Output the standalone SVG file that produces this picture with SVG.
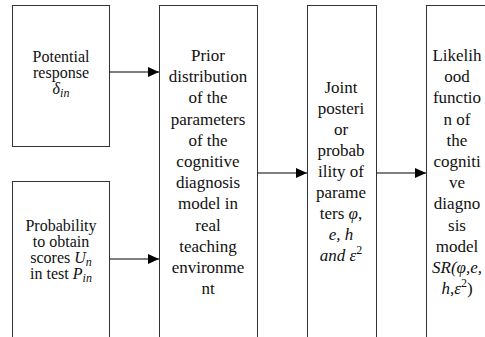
<svg xmlns="http://www.w3.org/2000/svg" width="485" height="337" viewBox="0 0 485 337">
<defs>
<marker id="ah" markerWidth="11" markerHeight="10" refX="11" refY="5" orient="auto" markerUnits="userSpaceOnUse">
<path d="M0,0 L11,5 L0,10 Z" fill="#000"/>
</marker>
<style>
.box{fill:#fff;stroke:#333;stroke-width:1}
text{font-family:'Liberation Serif','Times New Roman',serif;font-size:17px;fill:#111;text-anchor:middle}
.s{font-size:16px}
.i{font-style:italic}
.sub{font-size:12px}
.c{stroke:#000;stroke-width:1.2;fill:none}
</style>
</defs>
<rect width="485" height="337" fill="#fff"/>
<g id="n1">
<rect class="box" x="12.5" y="5.5" width="97" height="141"/>
<text class="s" x="61" y="62">Potential</text>
<text class="s" x="61" y="78">response</text>
<text class="s" x="61" y="94"><tspan class="i">δ</tspan><tspan class="i sub" dy="3">in</tspan></text>
</g>
<g id="n2">
<rect class="box" x="12.5" y="181.5" width="97" height="170"/>
<text class="s" x="61" y="230.5">Probability</text>
<text class="s" x="61" y="246.5">to obtain</text>
<text class="s" x="61" y="262.5">scores <tspan class="i">U</tspan><tspan class="i sub" dy="3">n</tspan></text>
<text class="s" x="61" y="278.5">in test <tspan class="i">P</tspan><tspan class="i sub" dy="3">in</tspan></text>
</g>
<g id="n3">
<rect class="box" x="159.5" y="5.5" width="98" height="345"/>
<text x="208" y="61">Prior</text>
<text x="208" y="82.2">distribution</text>
<text x="208" y="103.4">of the</text>
<text x="208" y="124.6">parameters</text>
<text x="208" y="145.8">of the</text>
<text x="208" y="167">cognitive</text>
<text x="208" y="188.2">diagnosis</text>
<text x="208" y="209.4">model in</text>
<text x="208" y="230.6">real</text>
<text x="208" y="251.8">teaching</text>
<text x="208" y="273">environme</text>
<text x="208" y="294.2">nt</text>
</g>
<g id="n4">
<rect class="box" x="307.5" y="5.5" width="69" height="345"/>
<text x="341" y="93">Joint</text>
<text x="341" y="114">posteri</text>
<text x="341" y="135">or</text>
<text x="341" y="156">probab</text>
<text x="341" y="177">ility of</text>
<text x="341" y="198">parame</text>
<text x="341" y="219">ters <tspan class="i">φ</tspan>,</text>
<text class="i" x="341" y="240">e, h</text>
<text x="341" y="261"><tspan class="i">and ε</tspan><tspan class="sub" dy="-7">2</tspan></text>
</g>
<g id="n5">
<rect class="box" x="426.5" y="5.5" width="64" height="345"/>
<text x="457" y="61">Likelih</text>
<text x="457" y="82.2">ood</text>
<text x="457" y="103.4">functio</text>
<text x="457" y="124.6">n of</text>
<text x="457" y="145.8">the</text>
<text x="457" y="167">cogniti</text>
<text x="457" y="188.2">ve</text>
<text x="457" y="209.4">diagno</text>
<text x="457" y="230.6">sis</text>
<text x="457" y="251.8">model</text>
<text class="i" x="457" y="273">SR(φ,e,</text>
<text x="457" y="294.2"><tspan class="i">h,ε</tspan><tspan class="sub" dy="-7">2</tspan><tspan dy="7">)</tspan></text>
</g>
<g id="connectors">
<line class="c" x1="109.5" y1="72" x2="159" y2="72" marker-end="url(#ah)"/>
<line class="c" x1="109.5" y1="259" x2="159" y2="259" marker-end="url(#ah)"/>
<line class="c" x1="257.5" y1="173" x2="307" y2="173" marker-end="url(#ah)"/>
<line class="c" x1="376.5" y1="173" x2="426" y2="173" marker-end="url(#ah)"/>
</g>
</svg>
